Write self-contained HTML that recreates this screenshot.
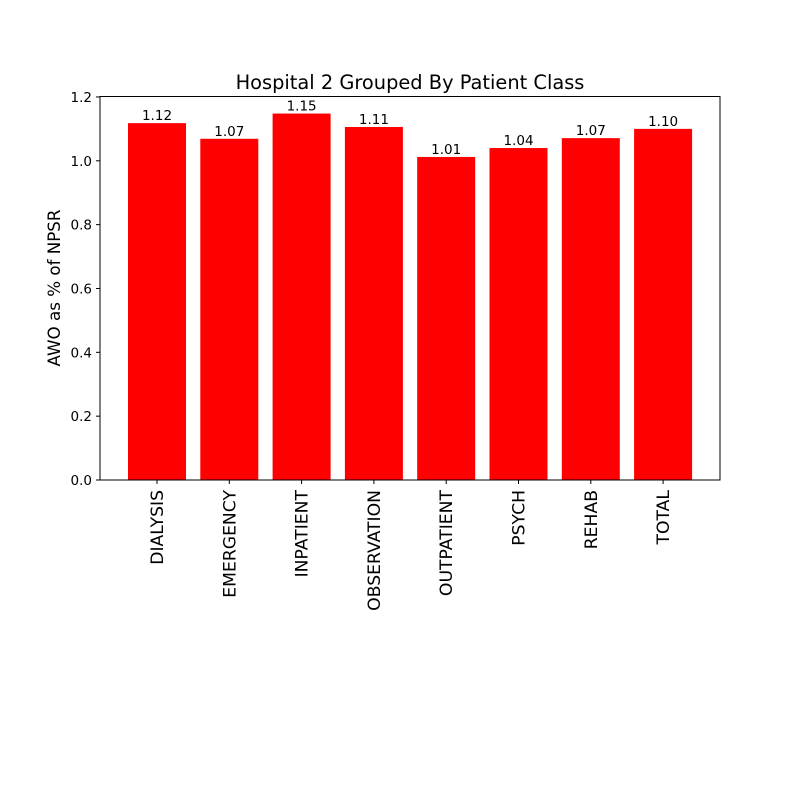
<!DOCTYPE html>
<html><head><meta charset="utf-8"><style>
body{margin:0;background:#fff}
svg text{font-family:"DejaVu Sans","Liberation Sans",sans-serif;fill:#000}
</style></head><body>
<svg id="chart" width="800" height="800">
<rect width="800" height="800" fill="#fff"/>
<text x="410" y="89" font-size="19.4" text-anchor="middle">Hospital 2 Grouped By Patient Class</text>
<text transform="translate(60,288) rotate(-90)" font-size="16.7" text-anchor="middle">AWO as % of NPSR</text>
<g id="bars"></g><g id="yticks"></g><g id="xticks"></g>
<rect x="100" y="96.5" width="620" height="383.5" fill="none" stroke="#000" stroke-width="1"/>
</svg>
<script>
const categories=["DIALYSIS","EMERGENCY","INPATIENT","OBSERVATION","OUTPATIENT","PSYCH","REHAB","TOTAL"];
const values=[1.118,1.069,1.148,1.106,1.012,1.040,1.071,1.100];
const valueLabels=["1.12","1.07","1.15","1.11","1.01","1.04","1.07","1.10"];
const yTicks=[0,0.2,0.4,0.6,0.8,1.0,1.2];
const yTickLabels=["0.0","0.2","0.4","0.6","0.8","1.0","1.2"];
const NS="http://www.w3.org/2000/svg";
const y=v=>480-v*319.2;
const x=i=>157+i*72.3;
const bw=58;
function mk(t,a,p){const e=document.createElementNS(NS,t);for(const k in a)e.setAttribute(k,a[k]);p.appendChild(e);return e;}
const gb=document.getElementById('bars'),gy=document.getElementById('yticks'),gx=document.getElementById('xticks');
values.forEach((v,i)=>{
 const r=mk('rect',{x:x(i)-bw/2,y:y(v),width:bw,height:y(0)-y(v),fill:'#ff0000'},gb);
 
 
 const t=mk('text',{x:x(i),y:y(v)-3,'font-size':13.5,'text-anchor':'middle'},gb);
 t.textContent=valueLabels[i];
 
 
 const tk=mk('line',{x1:x(i),x2:x(i),y1:480,y2:484,stroke:'#000'},gx);
 
 
 const lb=mk('text',{transform:`translate(${x(i)+6},490) rotate(-90)`,'font-size':17.2,'text-anchor':'end'},gx);
 lb.textContent=categories[i];
 
 
});
yTicks.forEach((v,i)=>{
 const tk=mk('line',{x1:96,x2:100,y1:y(v),y2:y(v),stroke:'#000'},gy);
 
 
 const lb=mk('text',{x:92,y:y(v)+5,'font-size':13.5,'text-anchor':'end'},gy);
 lb.textContent=yTickLabels[i];
 
 
});
</script>
</body></html>
